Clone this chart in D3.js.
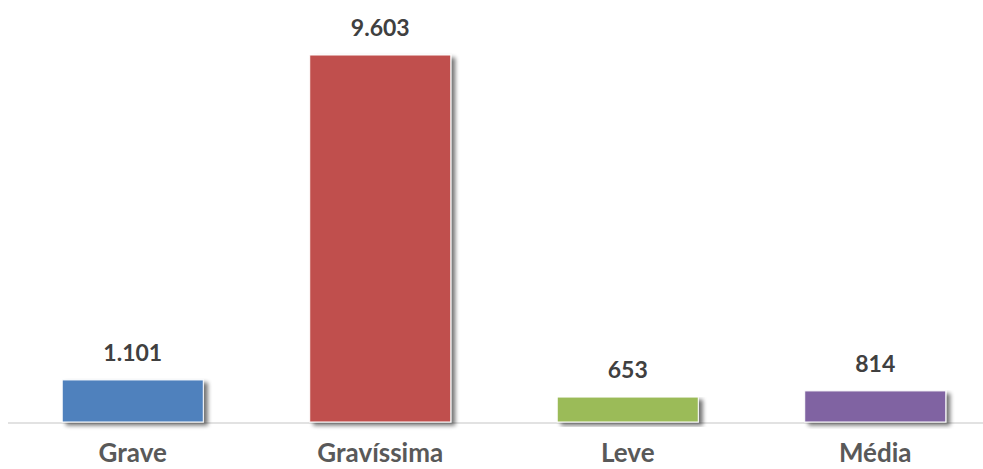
<!DOCTYPE html>
<html><head><meta charset="utf-8">
<script src="https://cdn.jsdelivr.net/npm/d3@7/dist/d3.min.js"></script>
<style>body{margin:0;background:#fff}svg{display:block}</style>
</head><body>
<svg id="c" width="983" height="469"></svg>
<script>
const categories = ["Grave", "Gravíssima", "Leve", "Média"];
const values = [1101, 9603, 653, 814];
const valueLabels = ["1.101", "9.603", "653", "814"];
const colors = ["#4F81BD", "#C0504D", "#9BBB59", "#8064A2"];

const svg = d3.select("#c");
const defs = svg.append("defs");
const f = defs.append("filter").attr("id","sh").attr("x","-10%").attr("y","-10%").attr("width","130%").attr("height","130%");
f.append("feGaussianBlur").attr("in","SourceAlpha").attr("stdDeviation",2).attr("result","b");
f.append("feOffset").attr("in","b").attr("dx",4).attr("dy",3).attr("result","o");
f.append("feComponentTransfer").attr("in","o").attr("result","o2").append("feFuncA").attr("type","linear").attr("slope",0.55);
const m = f.append("feMerge"); m.append("feMergeNode").attr("in","o2"); m.append("feMergeNode").attr("in","SourceGraphic");

const x = d3.scaleBand().domain(categories).range([9, 999]).paddingInner(0.43).paddingOuter(0.215);
const y = d3.scaleLinear().domain([0, 9603]).range([422, 55]);

svg.append("line").attr("x1",8).attr("x2",983).attr("y1",423).attr("y2",423)
  .attr("stroke","#d9d9d9").attr("stroke-width",1.5);

svg.selectAll("rect.bar").data(values).join("rect").attr("class","bar")
  .attr("x",(d,i)=>x(categories[i])).attr("width",x.bandwidth())
  .attr("y",d=>y(d)).attr("height",d=>y(0)-y(d))
  .attr("fill",(d,i)=>colors[i]).attr("stroke","#fff").attr("stroke-width",1)
  .attr("filter","url(#sh)");

svg.selectAll("text.val").data(values).join("text").attr("class","val")
  .attr("x",(d,i)=>x(categories[i])+x.bandwidth()/2).attr("y",d=>y(d)-19)
  .attr("text-anchor","middle").attr("font-family","Lato, 'Open Sans', sans-serif")
  .attr("font-weight","bold").attr("font-size",23).attr("fill","#404040")
  .text((d,i)=>valueLabels[i]);

svg.selectAll("text.cat").data(categories).join("text").attr("class","cat")
  .attr("x",d=>x(d)+x.bandwidth()/2).attr("y",462)
  .attr("text-anchor","middle").attr("font-family","Lato, 'Open Sans', sans-serif")
  .attr("font-weight","bold").attr("font-size",26).attr("fill","#595959")
  .text(d=>d);
</script>
</body></html>
